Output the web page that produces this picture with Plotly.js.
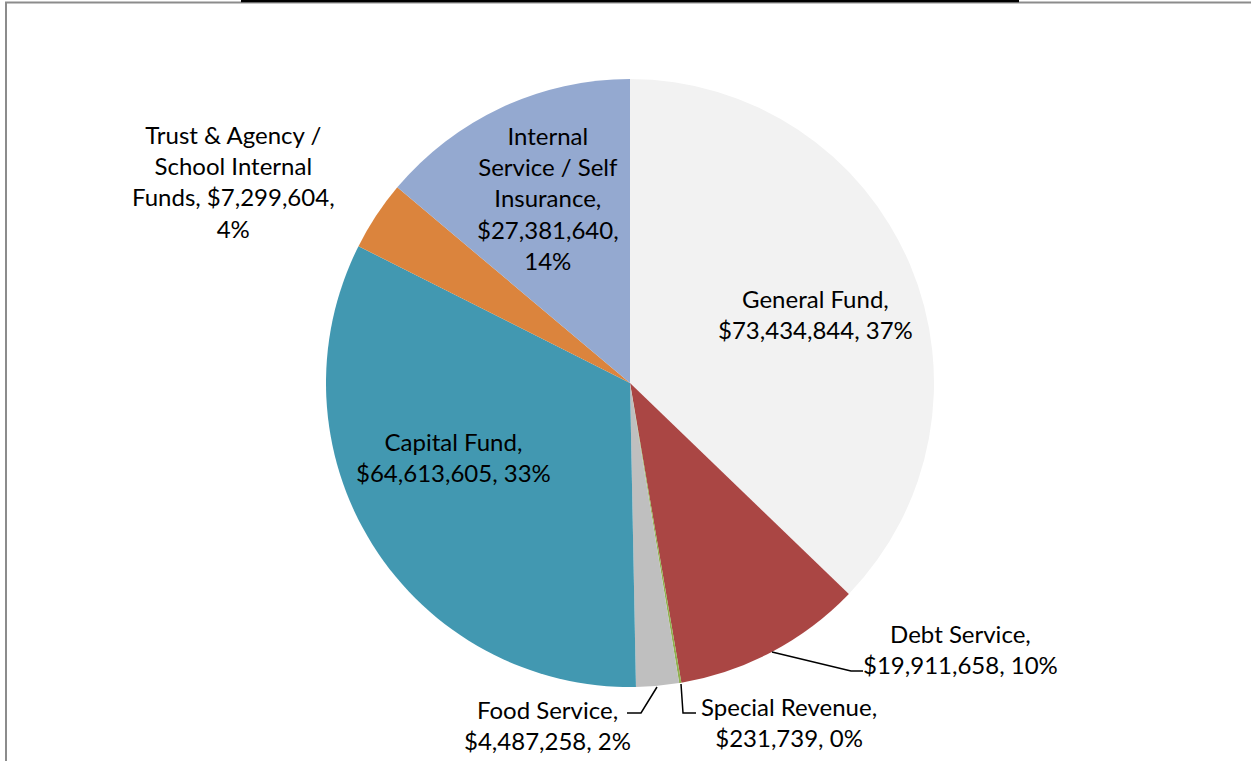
<!DOCTYPE html>
<html>
<head>
<meta charset="utf-8">
<script src="https://cdn.plot.ly/plotly-3.0.1.min.js"></script>
<style>html,body{margin:0;padding:0;background:#fff;}#chart{width:1251px;height:761px;}</style>
</head>
<body>
<div id="chart"></div>
<script>
// ---- data ----
var funds = ["General Fund", "Debt Service", "Special Revenue", "Food Service", "Capital Fund", "Trust & Agency / School Internal Funds", "Internal Service / Self Insurance"];
var amounts = [73434844, 19911658, 231739, 4487258, 64613605, 7299604, 27381640];
var labelLines = [
  ["General Fund,", "$73,434,844, 37%"],
  ["Debt Service,", "$19,911,658, 10%"],
  ["Special Revenue,", "$231,739, 0%"],
  ["Food Service,", "$4,487,258, 2%"],
  ["Capital Fund,", "$64,613,605, 33%"],
  ["Trust & Agency /", "School Internal", "Funds, $7,299,604,", "4%"],
  ["Internal", "Service / Self", "Insurance,", "$27,381,640,", "14%"]
];

// ---- styles / positions ----
var colors = ["#f2f2f2", "#aa4644", "#8fb04f", "#bfbfbf", "#4298b1", "#db843d", "#94a9d0"];
var W = 1251, H = 761;
function px(x){ return x / W; }
function py(y){ return 1 - y / H; }
var labelPos = [[815, 314], [960, 649], [789, 722], [547, 725], [453, 457], [233, 182], [548, 198]];
var leaders = [
  [[772, 652], [851, 671], [863, 671]],
  [[681, 684], [683, 713], [696, 713]],
  [[657, 687], [641, 713], [627, 713]]
];

var FONT = "Lato, 'Liberation Sans', sans-serif";

var annotations = labelLines.map(function(lines, i){
  return {
    xref: "paper", yref: "paper",
    x: px(labelPos[i][0]), y: py(labelPos[i][1]),
    xanchor: "center", yanchor: "middle",
    text: lines.join("<br>"),
    showarrow: false,
    align: "center",
    font: {family: FONT, size: 24, color: "#000"}
  };
});

function pathOf(pts){
  return pts.map(function(p, k){ return (k ? "L" : "M") + px(p[0]) + "," + py(p[1]); }).join(" ");
}

var shapes = leaders.map(function(pts){
  return {type: "path", xref: "paper", yref: "paper", path: pathOf(pts), line: {color: "#000", width: 1.5}};
});
// frame
shapes.push({type: "line", xref: "paper", yref: "paper", x0: px(5), y0: py(2.5), x1: px(1251), y1: py(2.5), line: {color: "#8c8c8c", width: 2}});
shapes.push({type: "line", xref: "paper", yref: "paper", x0: px(6), y0: py(2), x1: px(6), y1: py(761), line: {color: "#8c8c8c", width: 2}});
shapes.push({type: "rect", xref: "paper", yref: "paper", x0: px(241), y0: py(0), x1: px(1019), y1: py(2.2), fillcolor: "#000", line: {width: 0}});

var trace = {
  type: "pie",
  labels: funds,
  values: amounts,
  sort: false,
  direction: "clockwise",
  rotation: 0,
  textinfo: "none",
  hoverinfo: "none",
  marker: {colors: colors, line: {width: 0}},
  domain: {x: [px(326), px(934)], y: [py(687), py(79)]},
  showlegend: false
};

var layout = {
  width: W, height: H,
  margin: {l: 0, r: 0, t: 0, b: 0},
  paper_bgcolor: "#fff",
  showlegend: false,
  annotations: annotations,
  shapes: shapes,
  font: {family: FONT}
};

Plotly.newPlot("chart", [trace], layout, {staticPlot: true});
</script>
</body>
</html>
